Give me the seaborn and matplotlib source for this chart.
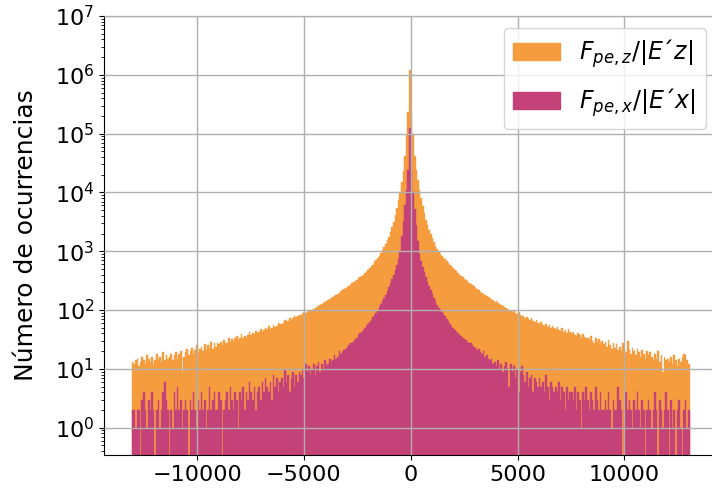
import matplotlib
matplotlib.use("Agg")
import matplotlib.pyplot as plt
import seaborn as sns
import numpy as np
import pandas as pd
from matplotlib.patches import Patch

# ancho de bin y rango del histograma
bin_width = 75
x_min, x_max = -13050, 13050

# F_pe,z/|E'z| : cuentas por bin, lado negativo (desde el centro hacia afuera)
z_left_out = [
    235000, 97000, 41000, 23000, 15000, 10000, 7300, 5400, 4100, 3200,
    2550, 2100, 1780, 1530, 1330, 1170, 1040, 930, 840, 765,
    700, 645, 595, 552, 515, 480, 452, 425, 400, 380,
    360, 345, 325, 312, 296, 283, 270, 258, 246, 236,
    226, 215, 208, 197, 190, 181, 175, 166, 160, 152,
    148, 141, 136, 131, 127, 120, 117, 113, 108, 104,
    101, 97, 99, 92, 89, 91, 85, 82, 84, 79,
    76, 78, 72, 69, 73, 66, 64, 68, 61, 59,
    57, 60, 54, 52, 56, 50, 48, 53, 47, 49,
    45, 43, 47, 42, 40, 44, 39, 41, 37, 43,
    38, 35, 36, 33, 39, 34, 31, 36, 33, 30,
    32, 29, 34, 28, 27, 31, 25, 29, 26, 28,
    24, 27, 22, 29, 23, 25, 21, 26, 20, 24,
    22, 19, 25, 21, 18, 23, 20, 17, 22, 19,
    16, 9, 20, 18, 15, 19, 17, 14, 18, 16,
    15, 17, 14, 19, 13, 16, 15, 18, 14, 12,
    16, 13, 15, 17, 12, 14, 16, 13, 11, 15, 14, 12, 13,
]
z_peak = 1200000
# lado positivo (desde el centro hacia afuera)
z_right_out = [
    235000, 97000, 41000, 24000, 16000, 11000, 8000, 5800, 4400, 3400,
    2800, 2300, 1950, 1700, 1450, 1250, 1100, 980, 890, 830,
    775, 725, 680, 635, 595, 555, 520, 488, 458, 430,
    400, 378, 358, 340, 322, 306, 292, 278, 265, 252,
    241, 228, 220, 205, 198, 187, 180, 171, 165, 158,
    150, 146, 138, 142, 130, 126, 121, 118, 112, 109,
    104, 101, 97, 93, 95, 88, 86, 91, 82, 80,
    78, 74, 77, 70, 68, 72, 65, 63, 67, 61,
    59, 62, 56, 54, 58, 52, 55, 50, 53, 49,
    48, 51, 46, 44, 49, 43, 45, 41, 47, 42,
    40, 43, 38, 36, 41, 37, 34, 39, 35, 33,
    34, 31, 36, 30, 28, 33, 29, 32, 27, 30,
    26, 29, 24, 31, 25, 22, 28, 23, 26, 21,
    24, 20, 27, 22, 19, 30, 21, 18, 23, 20,
    17, 22, 19, 16, 21, 18, 15, 20, 17, 19,
    16, 14, 18, 15, 20, 13, 17, 9, 16, 14,
    15, 13, 16, 12, 17, 14, 11, 15, 13, 16,
    18, 17, 14, 12,
]

# F_pe,x/|E'x|
x_left_out = [
    24500, 11000, 6000, 3300, 1800, 1000, 750, 590, 480, 400,
    335, 285, 245, 210, 183, 160, 141, 125, 112, 100,
    90, 82, 75, 69, 63, 58, 54, 50, 46, 43,
    40, 37, 34, 32, 30, 28, 27, 25, 24, 22,
    21, 19, 18, 20, 16, 15, 17, 14, 13, 15,
    12, 11, 14, 10, 12, 9, 13, 11, 8, 12,
    10, 8, 11, 9, 12, 7, 10, 8, 9, 6,
    8, 5, 9, 7, 4, 8, 6, 10, 5, 7,
    6, 4, 7, 5, 8, 3, 6, 4, 5, 7,
    4, 6, 3, 5, 4, 2, 5, 3, 4, 6,
    3, 4, 2, 5, 3, 4, 1, 3, 4, 2,
    3, 5, 2, 4, 3, 2, 0, 3, 4, 2,
    2, 4, 3, 2, 5, 2, 1, 3, 2, 4,
    2, 3, 1, 2, 4, 2, 3, 0, 2, 3,
    2, 1, 3, 2, 5, 2, 4, 1, 2, 0,
    2, 3, 6, 4, 2, 1, 3, 2, 0, 2,
    4, 2, 3, 1, 2, 4, 3, 0, 2, 2, 1, 2, 2,
]
x_peak = 126000
x_right_out = [
    24500, 10000, 5200, 2800, 1500, 900, 680, 540, 440, 365,
    305, 258, 220, 188, 162, 141, 124, 110, 99, 92,
    85, 78, 71, 65, 59, 54, 50, 46, 43, 40,
    38, 36, 34, 32, 31, 29, 28, 27, 25, 24,
    23, 21, 22, 19, 18, 20, 16, 17, 15, 14,
    15, 12, 13, 11, 14, 10, 12, 9, 11, 13,
    10, 5, 12, 9, 11, 7, 10, 4, 9, 11,
    8, 6, 9, 5, 7, 8, 4, 7, 6, 5,
    7, 5, 6, 4, 8, 5, 3, 6, 5, 4,
    5, 4, 6, 3, 5, 4, 2, 5, 3, 4,
    4, 3, 5, 2, 4, 3, 1, 4, 3, 5,
    3, 2, 4, 3, 2, 5, 3, 2, 4, 2,
    2, 3, 2, 4, 2, 1, 3, 2, 2, 5,
    3, 2, 0, 2, 4, 2, 3, 2, 1, 3,
    2, 4, 2, 1, 3, 2, 0, 2, 3, 2,
    1, 2, 4, 2, 0, 3, 2, 1, 2, 4,
    2, 0, 3, 1, 2, 0, 2, 3, 1, 0,
    2, 3, 1, 2,
]

labels = [r"$F_{pe,z}/|E´z|$", r"$F_{pe,x}/|E´x|$"]
colors = ["#F59D3E", "#C54278"]

edges = np.arange(x_min, x_max + 1, bin_width)
centers = edges[:-1] + bin_width / 2
df = pd.DataFrame({
    "centro": centers,
    "z": z_left_out[::-1] + [z_peak] + z_right_out,
    "x": x_left_out[::-1] + [x_peak] + x_right_out,
})

fig = plt.figure(figsize=(7.12, 4.88), dpi=100)
ax = fig.add_axes([104 / 712, 1 - 455 / 488, 613.4 / 712, 439 / 488])
ax.set_yscale("log")

for serie, col in zip(["z", "x"], colors):
    sns.histplot(data=df, x="centro", weights=serie, bins=list(edges), color=col,
                 alpha=1, edgecolor=col, linewidth=0.3, ax=ax)

ax.set_xlim(-14355, 14355)
ax.set_ylim(0.343, 1e7)
ax.set_xticks([-10000, -5000, 0, 5000, 10000])
ax.set_axisbelow(False)
ax.grid(True, color="#b0b0b0", linewidth=1)
ax.tick_params(labelsize=16)
ax.xaxis.label.set_visible(False)
ax.set_ylabel("Número de ocurrencias", fontsize=18, labelpad=12)

handles = [Patch(facecolor=c, edgecolor=c) for c in colors]
ax.legend(handles, labels, loc="upper right", fontsize=17, labelspacing=0.7)

plt.savefig("out.png", dpi=100)
